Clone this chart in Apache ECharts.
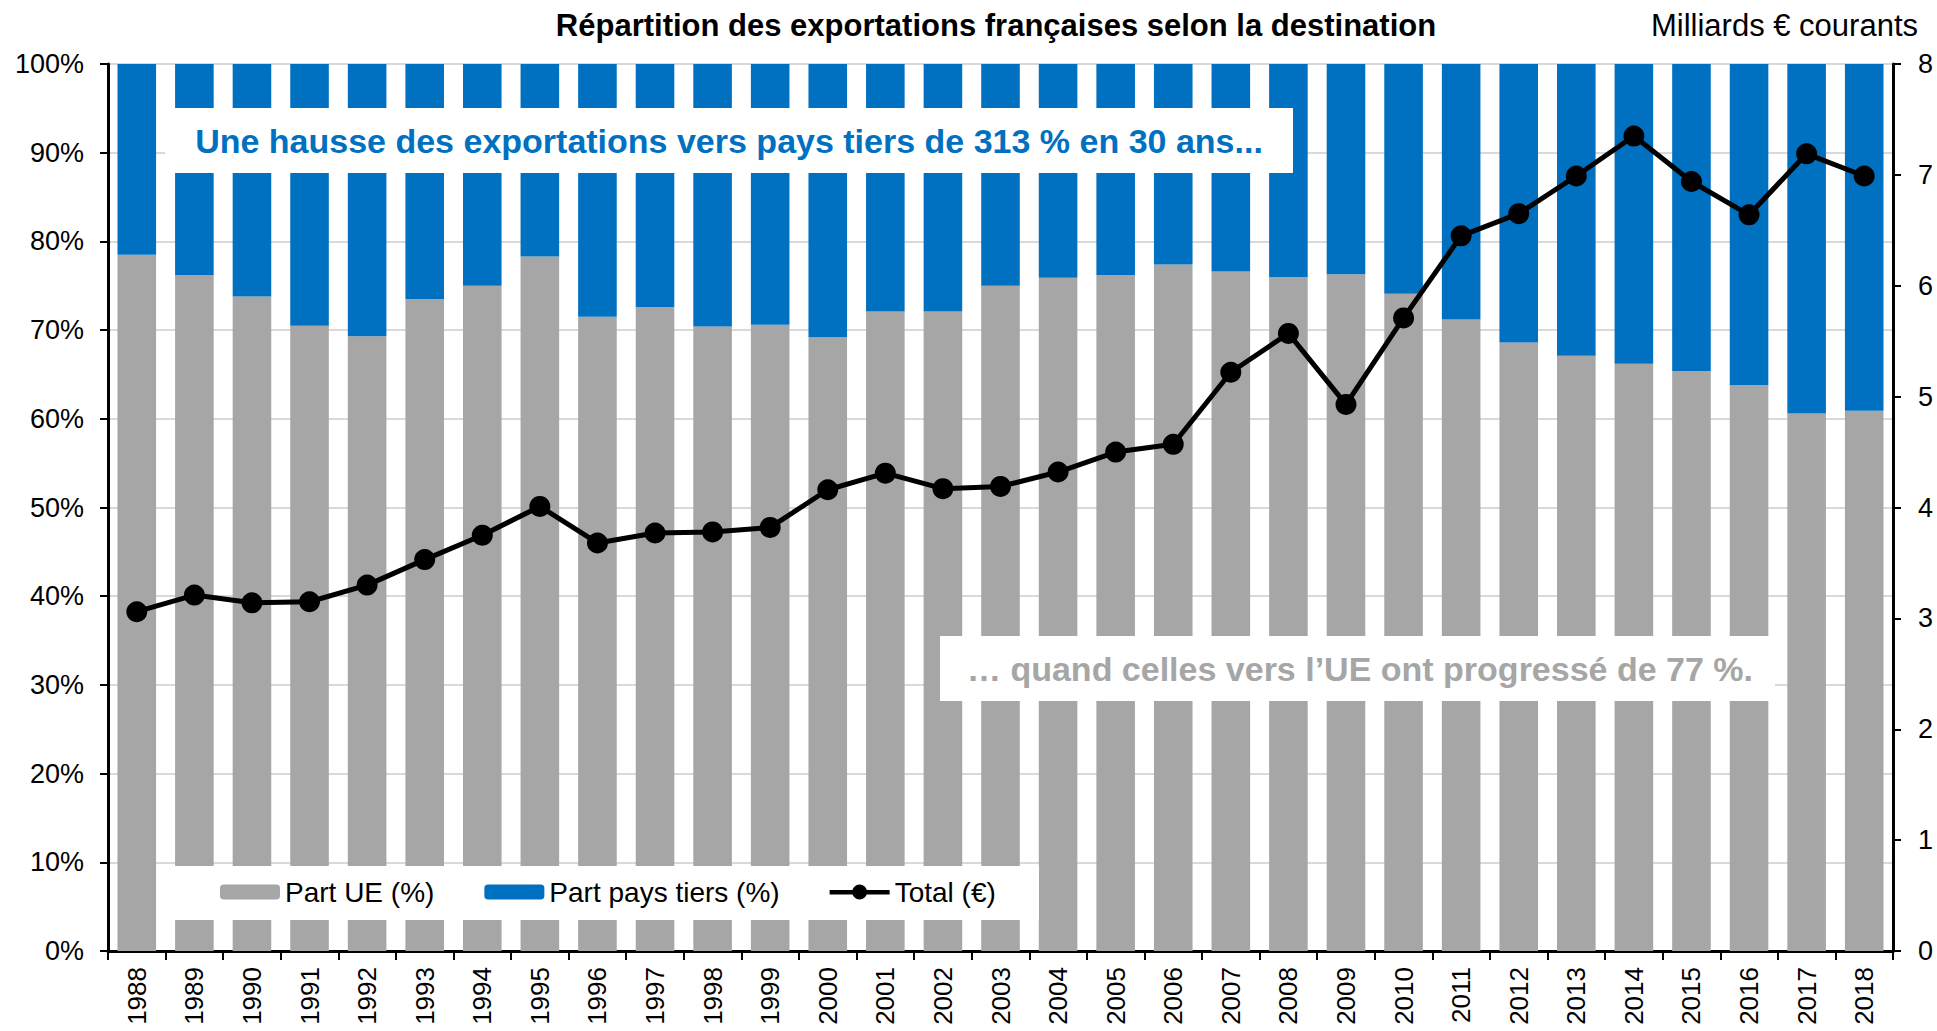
<!DOCTYPE html>
<html>
<head>
<meta charset="utf-8">
<script src="https://cdn.jsdelivr.net/npm/echarts@6/dist/echarts.min.js"></script>
<style>
html,body{margin:0;padding:0;background:#fff;}
#chart{width:1937px;height:1031px;}
</style>
</head>
<body>
<div id="chart"></div>
<script>
const years = ['1988','1989','1990','1991','1992','1993','1994','1995','1996','1997','1998','1999','2000','2001','2002','2003','2004','2005','2006','2007','2008','2009','2010','2011','2012','2013','2014','2015','2016','2017','2018'];
const partUE = [78.5,76.2,73.8,70.5,69.3,73.5,75.0,78.3,71.5,72.6,70.4,70.6,69.2,72.1,72.1,75.0,75.9,76.2,77.4,76.6,76.0,76.3,74.1,71.2,68.6,67.1,66.2,65.4,63.8,60.6,60.9];
const partTiers = [21.5,23.8,26.2,29.5,30.7,26.5,25.0,21.7,28.5,27.4,29.6,29.4,30.8,27.9,27.9,25.0,24.1,23.8,22.6,23.4,24.0,23.7,25.9,28.8,31.4,32.9,33.8,34.6,36.2,39.4,39.1];
const total = [3.06,3.21,3.14,3.15,3.30,3.53,3.75,4.01,3.68,3.77,3.78,3.82,4.16,4.31,4.17,4.19,4.32,4.50,4.57,5.22,5.57,4.93,5.71,6.45,6.65,6.99,7.35,6.94,6.64,7.19,6.99];
const leftTicks = {min:0, max:100, interval:10};
const rightTicks = {min:0, max:8, interval:1};

const FONT = "'Liberation Sans', Arial, sans-serif";
const GREY = '#A6A6A6', BLUE = '#0070C0';

const chart = echarts.init(document.getElementById('chart'), null, {renderer:'svg'});
chart.setOption({
  animation:false,
  backgroundColor:'#fff',
  textStyle:{fontFamily:FONT},
  grid:{left:108, right:44, top:64, bottom:80, containLabel:false},
  legend:{
    data:[
      {name:'Part UE (%)'},
      {name:'Part pays tiers (%)'},
      {name:'Total (€)', icon:'path://M0,5.5h23v4.5h-23zM37,5.5h23v4.5h-23zM22.5,7.5a7.5,7.5 0 1,1 15,0a7.5,7.5 0 1,1 -15,0z', itemStyle:{color:'#000'}}
    ],
    left:220, top:878, z:60,
    itemWidth:60, itemHeight:15, itemGap:50, padding:0,
    textStyle:{fontSize:28, color:'#000', fontFamily:FONT}
  },
  xAxis:{
    type:'category', data:years, boundaryGap:true,
    axisLine:{lineStyle:{color:'#000', width:3}},
    axisTick:{show:true, interval:0, alignWithLabel:false, length:9, lineStyle:{color:'#000', width:2}},
    axisLabel:{rotate:90, fontSize:26, color:'#000', margin:16, interval:0, fontFamily:FONT}
  },
  yAxis:[{
    type:'value', min:leftTicks.min, max:leftTicks.max, interval:leftTicks.interval,
    axisLine:{show:true, lineStyle:{color:'#000', width:3}},
    axisTick:{show:true, length:8, lineStyle:{color:'#000', width:2}},
    axisLabel:{formatter:'{value}%', fontSize:27, color:'#000', margin:24, fontFamily:FONT},
    splitLine:{show:true, lineStyle:{color:'#D9D9D9', width:2}}
  },{
    type:'value', position:'right', min:rightTicks.min, max:rightTicks.max, interval:rightTicks.interval,
    axisLine:{show:true, lineStyle:{color:'#000', width:3}},
    axisTick:{show:true, length:8, lineStyle:{color:'#000', width:2}},
    axisLabel:{fontSize:27, color:'#000', margin:25, fontFamily:FONT},
    splitLine:{show:false}
  }],
  series:[{
    name:'Part UE (%)', type:'bar', stack:'s', data:partUE, barWidth:'67%',
    itemStyle:{color:GREY}
  },{
    name:'Part pays tiers (%)', type:'bar', stack:'s', data:partTiers, barWidth:'67%',
    itemStyle:{color:BLUE}
  },{
    name:'Total (€)', type:'line', yAxisIndex:1, data:total, z:70,
    symbol:'circle', symbolSize:21,
    lineStyle:{color:'#000', width:5},
    itemStyle:{color:'#000'}
  }],
  graphic:[
    {type:'text', z:100, style:{x:996, y:25, text:'Répartition des exportations françaises selon la destination', fill:'#000', font:"bold 31px "+FONT, textAlign:'center', textVerticalAlign:'middle'}},
    {type:'text', z:100, style:{x:1918, y:25, text:'Milliards € courants', fill:'#000', font:"31px "+FONT, textAlign:'right', textVerticalAlign:'middle'}},
    {type:'rect', z:50, shape:{x:165, y:108, width:1128, height:65}, style:{fill:'#fff'}},
    {type:'text', z:51, style:{x:729, y:141, text:'Une hausse des exportations vers pays tiers de 313 % en 30 ans...', fill:BLUE, font:"bold 34px "+FONT, textAlign:'center', textVerticalAlign:'middle'}},
    {type:'rect', z:50, shape:{x:940, y:636, width:835, height:65}, style:{fill:'#fff'}},
    {type:'text', z:51, style:{x:1360, y:669, text:'… quand celles vers l’UE ont progressé de 77 %.', fill:GREY, font:"bold 34px "+FONT, textAlign:'center', textVerticalAlign:'middle'}},
    {type:'rect', z:50, shape:{x:170, y:866, width:869, height:54}, style:{fill:'#fff'}}
  ]
});
</script>
</body>
</html>
